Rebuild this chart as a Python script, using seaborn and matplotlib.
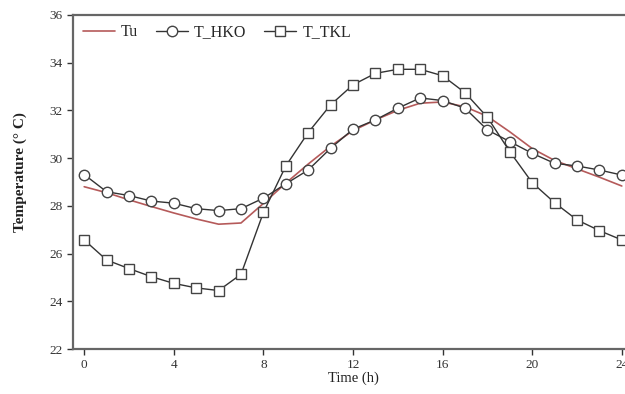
import matplotlib
matplotlib.use("Agg")
import matplotlib.pyplot as plt
import seaborn as sns

# hourly data
hours = list(range(25))
tu = [28.80, 28.55, 28.25, 27.97, 27.70, 27.45, 27.23, 27.28, 28.10, 28.95,
      29.75, 30.50, 31.15, 31.60, 32.00, 32.30, 32.35, 32.15, 31.75, 31.10,
      30.40, 29.90, 29.55, 29.20, 28.83]
t_hko = [29.31, 28.59, 28.43, 28.20, 28.11, 27.88, 27.80, 27.88, 28.32, 28.92,
         29.50, 30.41, 31.21, 31.60, 32.09, 32.52, 32.41, 32.09, 31.18, 30.69,
         30.20, 29.78, 29.67, 29.50, 29.29]
t_tkl = [26.57, 25.73, 25.37, 25.03, 24.75, 24.56, 24.45, 25.13, 27.72, 29.67,
         31.07, 32.23, 33.07, 33.55, 33.72, 33.72, 33.45, 32.74, 31.71, 30.27,
         28.97, 28.13, 27.41, 26.96, 26.57]

sns.set_style("ticks")
plt.rcParams["font.family"] = ["Liberation Serif", "DejaVu Serif"]

fig = plt.figure(figsize=(6.25, 3.94), dpi=100)
ax = fig.add_axes([0.1168, 0.1142, 0.896, 0.848])

sns.lineplot(x=hours, y=tu, ax=ax, color="#b55a5a", linewidth=1.2, label="Tu")
sns.lineplot(x=hours, y=t_hko, ax=ax, color="#333333", linewidth=1.0,
             marker="o", markersize=7.5, markerfacecolor="white",
             markeredgecolor="#444444", markeredgewidth=1.0, label="T_HKO")
sns.lineplot(x=hours, y=t_tkl, ax=ax, color="#333333", linewidth=1.0,
             marker="s", markersize=7.5, markerfacecolor="white",
             markeredgecolor="#444444", markeredgewidth=1.0, label="T_TKL")

ax.set_xlim(-0.5, 24.5)
ax.set_ylim(22, 36)
ax.set_xticks([0, 4, 8, 12, 16, 20, 24])
ax.set_yticks([22, 24, 26, 28, 30, 32, 34, 36])
ax.tick_params(labelsize=9.5, colors="#333333", width=1.0, length=4)

for s in ax.spines.values():
    s.set_color("#666666")
    s.set_linewidth(1.6)

ax.set_xlabel("Time (h)", fontsize=10.5, color="#222222", labelpad=0)
ax.set_ylabel("Temperature (° C)", fontsize=11, fontweight="bold",
              color="#222222")
ax.yaxis.set_label_coords(-0.082, 0.53)

ax.legend(loc="upper left", ncol=3, frameon=False, fontsize=11.5,
          handlelength=2.0, columnspacing=1.1, handletextpad=0.4,
          borderaxespad=0.2)

fig.savefig("out.png", dpi=100)
